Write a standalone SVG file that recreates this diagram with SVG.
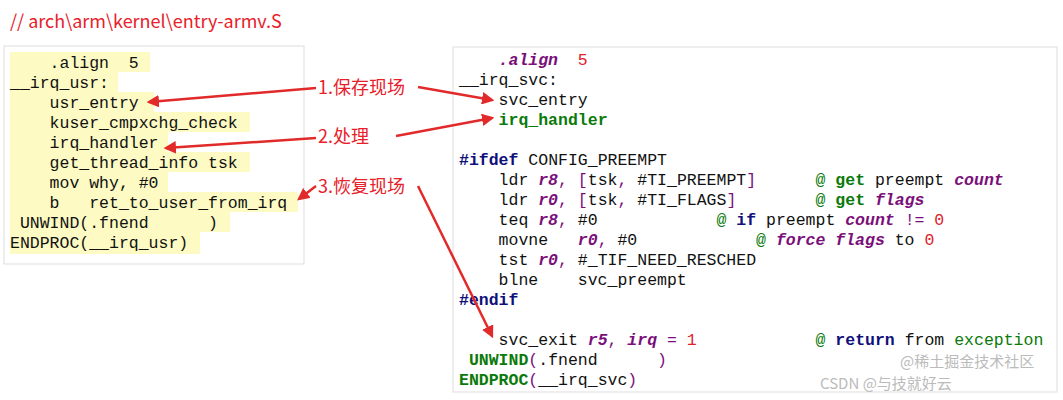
<svg xmlns="http://www.w3.org/2000/svg" width="1063" height="400" viewBox="0 0 1063 400">
<style>
.m{font-family:"Liberation Mono","DejaVu Sans Mono",monospace;font-size:16.5px;fill:#111;white-space:pre}
.lab{font-family:"Noto Sans CJK SC","Liberation Sans",sans-serif;font-size:18px;fill:#e8202a}
.hl{fill:#fdfbc3}
.p{fill:#7a0f7a;font-weight:bold;font-style:italic}
.r{fill:#e0202a}
.g{fill:#0a7a0a}
.gb{fill:#0a7a0a;font-weight:bold}
.n{fill:#10107a;font-weight:bold}
.pp{fill:#7a0f7a}
.wm{font-family:"Noto Sans CJK SC",sans-serif;font-size:15px;fill:#bbb}
.arr{stroke:#e22a2a;stroke-width:2.5;fill:none;marker-end:url(#ah)}
</style>
<defs>
<marker id="ah" viewBox="0 0 10 10" refX="8" refY="5" markerWidth="5" markerHeight="5" orient="auto"><path d="M0,0L10,5L0,10z" fill="#e22a2a"/></marker>
</defs>
<rect width="1063" height="400" fill="#fff"/>
<text x="10" y="28" class="lab">// arch\arm\kernel\entry-armv.S</text>

<g id="left">
<rect x="4" y="46" width="300" height="218" fill="#fff" stroke="#ddd"/>
<g class="hl">
<rect x="10" y="52" width="140" height="20"/>
<rect x="10" y="72" width="108" height="20"/>
<rect x="10" y="92" width="144" height="20"/>
<rect x="10" y="112" width="240" height="20"/>
<rect x="10" y="132" width="158" height="20"/>
<rect x="10" y="152" width="240" height="20"/>
<rect x="10" y="172" width="158" height="20"/>
<rect x="10" y="192" width="288" height="20"/>
<rect x="10" y="212" width="220" height="20"/>
<rect x="10" y="232" width="190" height="22"/>
</g>
<text class="m" x="10" y="68">    .align  5</text>
<text class="m" x="10" y="88">__irq_usr:</text>
<text class="m" x="10" y="108">    usr_entry</text>
<text class="m" x="10" y="128">    kuser_cmpxchg_check</text>
<text class="m" x="10" y="148">    irq_handler</text>
<text class="m" x="10" y="168">    get_thread_info tsk</text>
<text class="m" x="10" y="188">    mov why, #0</text>
<text class="m" x="10" y="208">    b   ret_to_user_from_irq</text>
<text class="m" x="10" y="228"> UNWIND(.fnend      )</text>
<text class="m" x="10" y="248">ENDPROC(__irq_usr)</text>
</g>

<g id="right">
<rect x="453" y="47" width="604" height="345" fill="#fff" stroke="#ddd"/>
<text class="m" x="459" y="65">    <tspan class="p">.align</tspan>  <tspan class="r">5</tspan></text>
<text class="m" x="459" y="85">__irq_svc:</text>
<text class="m" x="459" y="105">    svc_entry</text>
<text class="m" x="459" y="125">    <tspan class="gb">irq_handler</tspan></text>
<text class="m" x="459" y="165"><tspan class="n">#ifdef</tspan> CONFIG_PREEMPT</text>
<text class="m" x="459" y="185">    ldr <tspan class="p">r8</tspan><tspan class="pp">,</tspan> <tspan class="pp">[</tspan>tsk<tspan class="pp">,</tspan> #TI_PREEMPT<tspan class="pp">]</tspan>      <tspan class="g">@</tspan> <tspan class="gb">get</tspan> preempt <tspan class="p">count</tspan></text>
<text class="m" x="459" y="205">    ldr <tspan class="p">r0</tspan><tspan class="pp">,</tspan> <tspan class="pp">[</tspan>tsk<tspan class="pp">,</tspan> #TI_FLAGS<tspan class="pp">]</tspan>        <tspan class="g">@</tspan> <tspan class="gb">get</tspan> <tspan class="p">flags</tspan></text>
<text class="m" x="459" y="225">    teq <tspan class="p">r8</tspan><tspan class="pp">,</tspan> #0            <tspan class="g">@</tspan> <tspan class="n">if</tspan> preempt <tspan class="p">count</tspan> <tspan class="pp">!=</tspan> <tspan class="r">0</tspan></text>
<text class="m" x="459" y="245">    movne   <tspan class="p">r0</tspan><tspan class="pp">,</tspan> #0            <tspan class="g">@</tspan> <tspan class="p">force flags</tspan> to <tspan class="r">0</tspan></text>
<text class="m" x="459" y="265">    tst <tspan class="p">r0</tspan><tspan class="pp">,</tspan> #_TIF_NEED_RESCHED</text>
<text class="m" x="459" y="285">    blne    svc_preempt</text>
<text class="m" x="459" y="305"><tspan class="n">#endif</tspan></text>
<text class="m" x="459" y="345">    svc_exit <tspan class="p">r5</tspan><tspan class="pp">,</tspan> <tspan class="p">irq</tspan> <tspan class="pp">=</tspan> <tspan class="r">1</tspan>            <tspan class="g">@</tspan> <tspan class="n">return</tspan> from <tspan class="g">exception</tspan></text>
<text class="m" x="459" y="365"> <tspan class="gb">UNWIND</tspan><tspan class="pp">(</tspan>.fnend      <tspan class="pp">)</tspan></text>
<text class="m" x="459" y="385"><tspan class="gb">ENDPROC</tspan><tspan class="pp">(</tspan>__irq_svc<tspan class="pp">)</tspan></text>
<text class="wm" x="900" y="367">@稀土掘金技术社区</text>
<text class="wm" x="820" y="389">CSDN @与技就好云</text>
</g>

<g id="label1"><text class="lab" x="318" y="94">1.保存现场</text></g>
<g id="label2"><text class="lab" x="318" y="143">2.处理</text></g>
<g id="label3"><text class="lab" x="318" y="193">3.恢复现场</text></g>

<g id="connectors">
<path class="arr" d="M316,88 L149,102"/>
<path class="arr" d="M418,87 L492,100"/>
<path class="arr" d="M316,138 L166,148"/>
<path class="arr" d="M396,136 L492,118"/>
<path class="arr" d="M316,186 L299,199"/>
<path class="arr" d="M418,186 L492,336"/>
</g>
</svg>
